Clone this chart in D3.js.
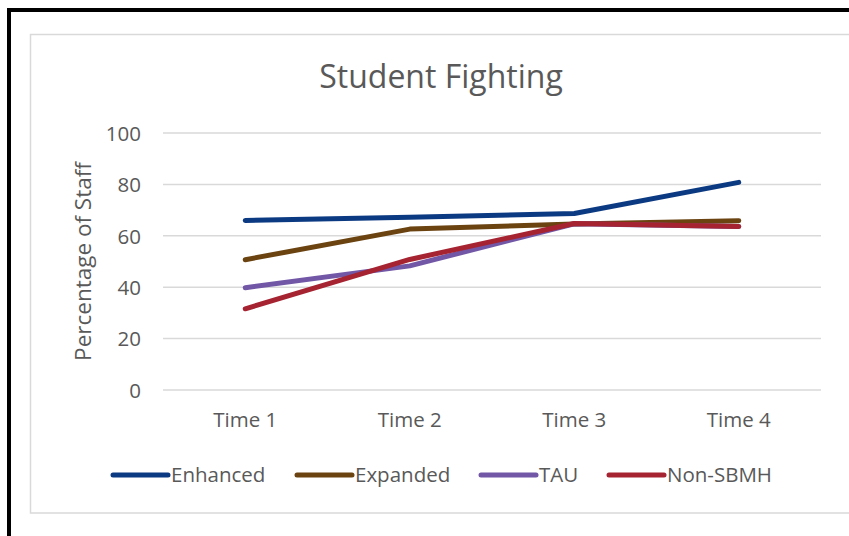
<!DOCTYPE html>
<html>
<head>
<meta charset="utf-8">
<script src="https://cdn.jsdelivr.net/npm/d3@7"></script>
<style>
  html, body { margin: 0; padding: 0; background: #fff; }
  svg { display: block; }
  text { font-family: "Open Sans", "Liberation Sans", sans-serif; fill: #595959; }
</style>
</head>
<body>
<svg id="chart" width="849" height="536"></svg>
<script>
// Chart data
const categories = ["Time 1", "Time 2", "Time 3", "Time 4"];
const seriesNames = ["Enhanced", "Expanded", "TAU", "Non-SBMH"];
const enhanced = [66, 67.2, 68.7, 80.8];
const expanded = [50.7, 62.6, 64.6, 65.9];
const tau = [39.8, 48.3, 64.7, 63.6];
const nonSbmh = [31.6, 50.8, 64.8, 63.6];
const yTicks = [0, 20, 40, 60, 80, 100];
const colors = ["#0C3A82", "#6A4311", "#7157A6", "#A62331"];

const seriesValues = [enhanced, expanded, tau, nonSbmh];

const svg = d3.select("#chart");

// outer black border and the chart-area frame
svg.append("rect")
  .attr("x", 9).attr("y", 10).attr("width", 900).attr("height", 600)
  .attr("fill", "none").attr("stroke", "#000").attr("stroke-width", 4);
svg.append("rect")
  .attr("x", 30.5).attr("y", 34.5).attr("width", 880).attr("height", 478.5)
  .attr("fill", "#fff").attr("stroke", "#D9D9D9").attr("stroke-width", 1.5);

const plot = { left: 163, right: 821, top: 133, bottom: 390 };

const x = d3.scaleBand().domain(categories).range([plot.left, plot.right]);
const y = d3.scaleLinear().domain([0, 100]).range([plot.bottom, plot.top]);

// gridlines
svg.append("g")
  .selectAll("line")
  .data(yTicks)
  .join("line")
  .attr("x1", plot.left).attr("x2", plot.right)
  .attr("y1", d => y(d)).attr("y2", d => y(d))
  .attr("stroke", "#D9D9D9").attr("stroke-width", 1.5);

// y axis labels
const yAxis = d3.axisLeft(y).tickValues(yTicks).tickSize(0).tickPadding(22);
const gy = svg.append("g").attr("transform", `translate(${plot.left},0)`).call(yAxis);
gy.select(".domain").remove();
gy.selectAll("text")
  .style("font-family", "'Open Sans', sans-serif")
  .attr("font-size", 20.5).attr("fill", "#595959").attr("dy", "0.36em");

// x axis labels
const xAxis = d3.axisBottom(x).tickSize(0).tickPadding(22);
const gx = svg.append("g").attr("transform", `translate(0,${plot.bottom})`).call(xAxis);
gx.select(".domain").remove();
gx.selectAll("text")
  .style("font-family", "'Open Sans', sans-serif")
  .attr("font-size", 20.5).attr("fill", "#595959");

// title
svg.append("text")
  .attr("x", 441).attr("y", 88)
  .attr("text-anchor", "middle")
  .attr("font-size", 32)
  .text("Student Fighting");

// y axis title
svg.append("text")
  .attr("transform", `translate(83,${(plot.top + plot.bottom) / 2}) rotate(-90)`)
  .attr("text-anchor", "middle")
  .attr("dy", "0.35em")
  .attr("font-size", 22.5)
  .text("Percentage of Staff");

// series lines
const line = d3.line()
  .x((d, i) => x(categories[i]) + x.bandwidth() / 2)
  .y(d => y(d));

svg.append("g")
  .selectAll("path")
  .data(seriesValues)
  .join("path")
  .attr("d", line)
  .attr("fill", "none")
  .attr("stroke", (d, i) => colors[i])
  .attr("stroke-width", 5)
  .attr("stroke-linecap", "round")
  .attr("stroke-linejoin", "round");

// legend
const legendX = [113, 297, 481, 609];
const legend = svg.append("g")
  .selectAll("g")
  .data(seriesNames)
  .join("g")
  .attr("transform", (d, i) => `translate(${legendX[i]},475)`);
legend.append("line")
  .attr("x1", 0).attr("x2", 55).attr("y1", 0).attr("y2", 0)
  .attr("stroke", (d, i) => colors[i])
  .attr("stroke-width", 5)
  .attr("stroke-linecap", "round");
legend.append("text")
  .attr("x", 58).attr("y", 0).attr("dy", "0.36em")
  .attr("font-size", 20.5)
  .text(d => d);
</script>
</body>
</html>
